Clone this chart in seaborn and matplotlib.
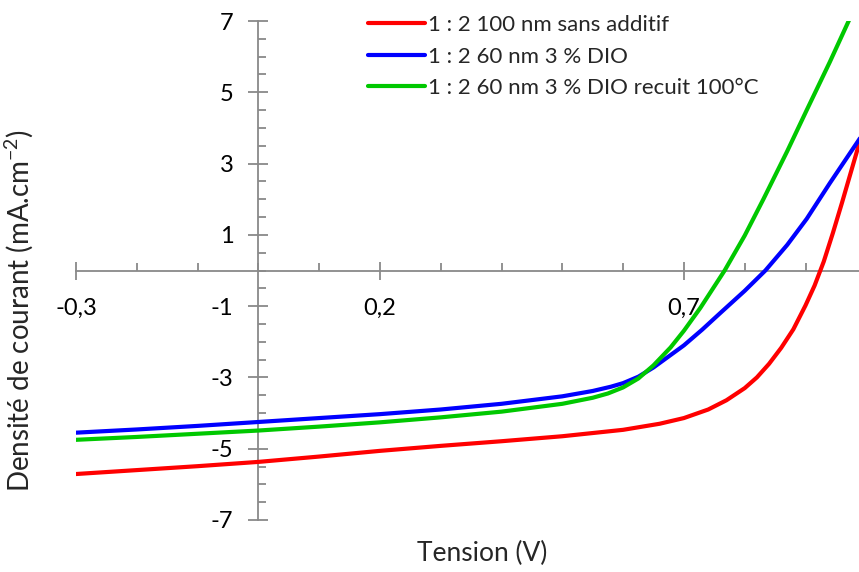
import matplotlib
matplotlib.use("Agg")
import matplotlib.pyplot as plt
import seaborn as sns
import pandas as pd
from matplotlib.ticker import FixedLocator, FuncFormatter, MultipleLocator

# ---- data ----
series_names = ["1 : 2 100 nm sans additif",
                "1 : 2 60 nm 3 % DIO",
                "1 : 2 60 nm 3 % DIO recuit 100°C"]
series_colors = ["#FF0000", "#0000FF", "#00C800"]

red_x = [-0.30, -0.20, -0.10, 0.00, 0.10, 0.20, 0.30, 0.40, 0.50, 0.60, 0.66, 0.70,
         0.74, 0.77, 0.80, 0.82, 0.84, 0.86, 0.88, 0.90, 0.915, 0.93, 0.945, 0.96, 0.975, 0.99]
red_y = [-5.71, -5.60, -5.49, -5.37, -5.22, -5.06, -4.92, -4.79, -4.65, -4.47, -4.30, -4.14,
         -3.90, -3.64, -3.30, -3.00, -2.62, -2.17, -1.65, -0.98, -0.42, 0.25, 1.05, 1.90, 2.78, 3.66]

blue_x = [-0.30, -0.20, -0.10, 0.00, 0.10, 0.20, 0.30, 0.40, 0.50, 0.55, 0.58, 0.60, 0.625,
          0.65, 0.70, 0.73, 0.76, 0.80, 0.834, 0.87, 0.902, 0.94, 0.99]
blue_y = [-4.55, -4.46, -4.36, -4.25, -4.14, -4.03, -3.90, -3.74, -3.53, -3.38, -3.26, -3.16, -2.98,
          -2.72, -2.10, -1.66, -1.19, -0.57, 0.00, 0.72, 1.45, 2.45, 3.72]

green_x = [-0.30, -0.20, -0.10, 0.00, 0.10, 0.20, 0.30, 0.40, 0.50, 0.55, 0.575, 0.60, 0.625,
           0.65, 0.678, 0.70, 0.727, 0.767, 0.80, 0.831, 0.87, 0.902, 0.94, 0.971, 0.99]
green_y = [-4.75, -4.67, -4.58, -4.49, -4.38, -4.26, -4.12, -3.96, -3.74, -3.57, -3.45, -3.28, -3.03,
           -2.66, -2.16, -1.69, -1.05, 0.00, 0.98, 2.01, 3.35, 4.50, 5.85, 7.00, 7.70]

xtick_values = [-0.3, 0.2, 0.7]
xtick_labels = ["-0,3", "0,2", "0,7"]
ytick_values = [-7, -5, -3, -1, 1, 3, 5, 7]
ytick_labels = ["-7", "-5", "-3", "-1", "1", "3", "5", "7"]

x_label = "Tension (V)"
y_label = "Densité de courant (mA.cm$^{-2}$)"

# ---- build long table ----
frames = []
for name, xs, ys in zip(series_names, [red_x, blue_x, green_x], [red_y, blue_y, green_y]):
    frames.append(pd.DataFrame({"V": xs, "J": ys, "serie": name}))
df = pd.concat(frames, ignore_index=True)

sns.set_theme(style="white")
plt.rcParams["font.family"] = ["Lato", "DejaVu Sans"]
plt.rcParams["mathtext.fontset"] = "custom"
plt.rcParams["mathtext.rm"] = "Lato"
plt.rcParams["mathtext.it"] = "Lato:italic"

W, H = 859, 572
fig = plt.figure(figsize=(W / 100, H / 100), dpi=100)
ax = fig.add_axes([76 / W, 1 - 520 / H, 1 - 76 / W, (520 - 21) / H])

sns.lineplot(data=df, x="V", y="J", hue="serie", hue_order=series_names,
             palette=series_colors, sort=False, estimator=None, linewidth=3.0,
             ax=ax, legend=True)

ax.set_xlim(-0.3, 0.988)
ax.set_ylim(-7, 7)

axis_gray = "#898989"
for s in ["top", "right"]:
    ax.spines[s].set_visible(False)
for s in ["left", "bottom"]:
    ax.spines[s].set_position(("data", 0))
    ax.spines[s].set_color(axis_gray)
    ax.spines[s].set_linewidth(1.3)
    ax.spines[s].set_zorder(1)

ax.xaxis.set_major_locator(FixedLocator(xtick_values))
ax.xaxis.set_major_formatter(FuncFormatter(
    lambda v, p: xtick_labels[min(range(len(xtick_values)), key=lambda i: abs(xtick_values[i] - v))]))
ax.xaxis.set_minor_locator(MultipleLocator(0.1))
ax.yaxis.set_major_locator(FixedLocator(ytick_values))
ax.yaxis.set_major_formatter(FuncFormatter(
    lambda v, p: ytick_labels[min(range(len(ytick_values)), key=lambda i: abs(ytick_values[i] - v))]))
ax.yaxis.set_minor_locator(MultipleLocator(0.5))

ax.tick_params(axis="x", which="major", direction="inout", length=13, width=1.3,
               color=axis_gray, labelsize=17, labelcolor="black", pad=13, bottom=True)
ax.tick_params(axis="x", which="minor", direction="in", length=6, width=1.3,
               color=axis_gray, bottom=True)
ax.tick_params(axis="y", which="major", direction="inout", length=14, width=1.3,
               color=axis_gray, labelsize=17, labelcolor="black", pad=11, left=True)
ax.tick_params(axis="y", which="minor", direction="in", length=6, width=1.3,
               color=axis_gray, left=True)

ax.set_xlabel("")
ax.set_ylabel("")
fig.text(482 / W, 1 - 553 / H, x_label, ha="center", va="center", fontsize=19)
fig.text(19 / W, 1 - 310 / H, y_label, ha="center", va="center", rotation=90, fontsize=20)

handles, labels = ax.get_legend_handles_labels()
leg = ax.legend(handles, labels, loc="upper left",
                bbox_to_anchor=(368 / W, 1 - 15 / H), bbox_transform=fig.transFigure,
                frameon=False, fontsize=16, handlelength=2.57, handletextpad=0.14,
                labelspacing=0.52, borderpad=0, borderaxespad=0)
for line in leg.get_lines():
    line.set_linewidth(3.0)

fig.savefig("out.png", dpi=100)
